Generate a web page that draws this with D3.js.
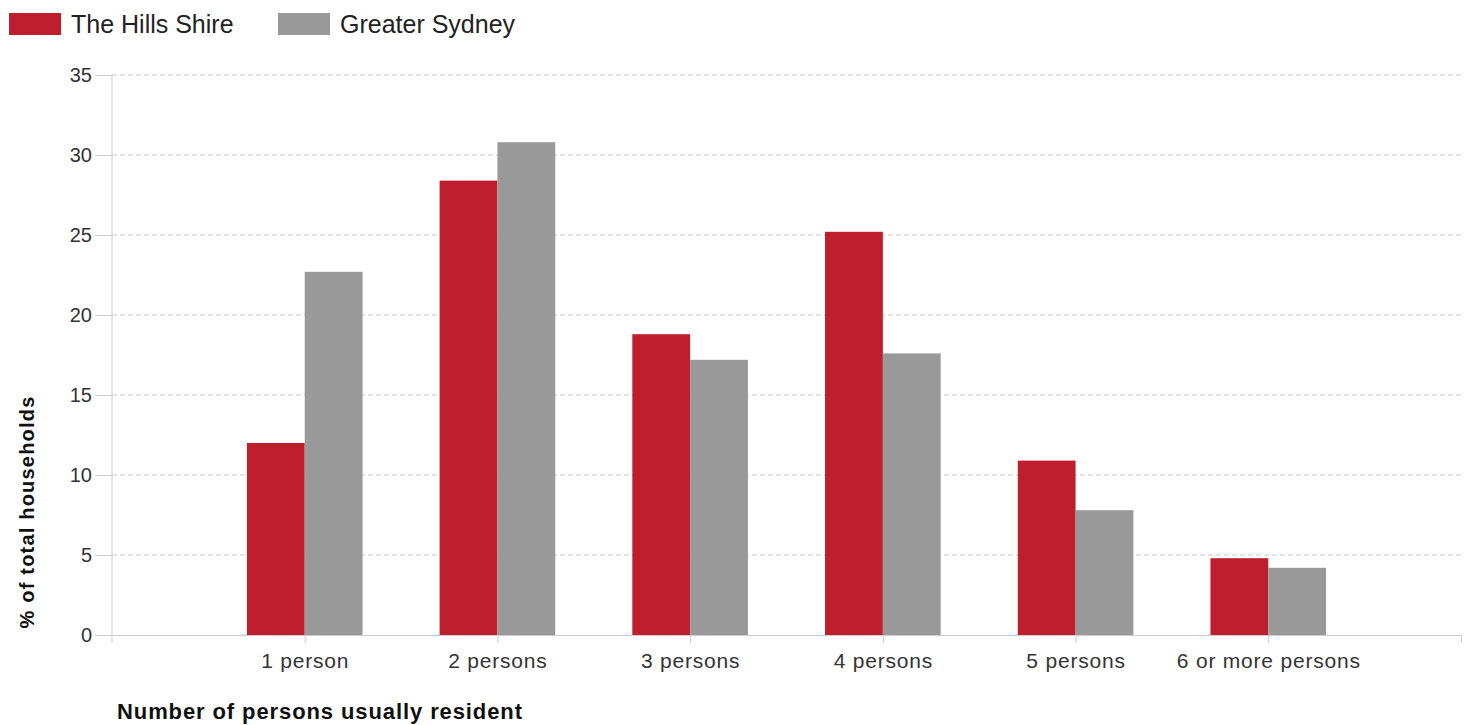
<!DOCTYPE html>
<html>
<head>
<meta charset="utf-8">
<script src="https://cdn.jsdelivr.net/npm/d3@7"></script>
<style>
  body { margin: 0; background: #fff; }
  svg { font-family: "Liberation Sans", Arial, sans-serif; }
</style>
</head>
<body>
<svg id="chart" width="1469" height="725"></svg>
<script>
const categories = ["1 person", "2 persons", "3 persons", "4 persons", "5 persons", "6 or more persons"];
const seriesNames = ["The Hills Shire", "Greater Sydney"];
const hillsShire = [12.0, 28.4, 18.8, 25.2, 10.9, 4.8];
const greaterSydney = [22.7, 30.8, 17.2, 17.6, 7.8, 4.2];
const yTicks = [0, 5, 10, 15, 20, 25, 30, 35];
const colors = ["#be1e2d", "#999999"];

const svg = d3.select("#chart");
const margin = { top: 75, right: 8, bottom: 90, left: 112 };
const width = 1469 - margin.left - margin.right;
const height = 725 - margin.top - margin.bottom;

const g = svg.append("g").attr("transform", `translate(${margin.left},${margin.top})`);

// categories sit at 1..n, with half a slot of empty room either side
const x = d3.scaleLinear().domain([0, categories.length + 1]).range([0, width]);
const y = d3.scaleLinear().domain([0, 35]).range([height, 0]);
const barW = x(0.3) - x(0);

// grid
g.append("g")
  .selectAll("line")
  .data(yTicks.filter(d => d > 0))
  .enter()
  .append("line")
  .attr("x1", 0)
  .attr("x2", width)
  .attr("y1", d => y(d))
  .attr("y2", d => y(d))
  .attr("stroke", "#c8c8c8")
  .attr("stroke-dasharray", "5,3");

// y axis
const yAxis = g.append("g")
  .call(d3.axisLeft(y).tickValues(yTicks).tickSize(17).tickPadding(3));
yAxis.select(".domain").remove();
yAxis.selectAll(".tick line").attr("stroke", "#cccccc");
yAxis.selectAll(".tick text")
  .attr("fill", "#333")
  .style("font-size", "20px");
g.append("line")
  .attr("x1", 0).attr("x2", 0)
  .attr("y1", 0).attr("y2", height + 8)
  .attr("stroke", "#cccccc");

// x axis
const xAxis = g.append("g")
  .attr("transform", `translate(0,${height})`)
  .call(d3.axisBottom(x)
    .tickValues(d3.range(1, categories.length + 2))
    .tickFormat(i => categories[i - 1] || "")
    .tickSize(8)
    .tickSizeOuter(0)
    .tickPadding(10));
xAxis.select(".domain").attr("stroke", "#cccccc");
xAxis.selectAll(".tick line").attr("stroke", "#cccccc");
xAxis.selectAll(".tick text")
  .attr("fill", "#333")
  .style("font-size", "21px")
  .style("letter-spacing", "0.8px");

// bars
const series = [hillsShire, greaterSydney];
series.forEach((vals, s) => {
  g.append("g")
    .selectAll("rect")
    .data(vals)
    .enter()
    .append("rect")
    .attr("x", (d, i) => x(i + 1) - barW + s * barW)
    .attr("y", d => y(d))
    .attr("width", barW)
    .attr("height", d => y(0) - y(d))
    .attr("fill", colors[s]);
});

// axis titles
svg.append("text")
  .attr("x", 117)
  .attr("y", 719)
  .attr("fill", "#111")
  .style("font-size", "22px")
  .style("font-weight", "bold")
  .style("letter-spacing", "0.9px")
  .text("Number of persons usually resident");

svg.append("text")
  .attr("transform", "translate(34,512) rotate(-90)")
  .attr("text-anchor", "middle")
  .attr("fill", "#111")
  .style("font-size", "20px")
  .style("font-weight", "bold")
  .style("letter-spacing", "1.2px")
  .text("% of total households");

// legend
const legendX = [9, 278];
const legend = svg.append("g");
seriesNames.forEach((name, i) => {
  legend.append("rect")
    .attr("x", legendX[i])
    .attr("y", 13)
    .attr("width", 52)
    .attr("height", 22)
    .attr("fill", colors[i]);
  legend.append("text")
    .attr("x", legendX[i] + 62)
    .attr("y", 33)
    .attr("fill", "#222")
    .style("font-size", "25px")
    .text(name);
});
</script>
</body>
</html>
